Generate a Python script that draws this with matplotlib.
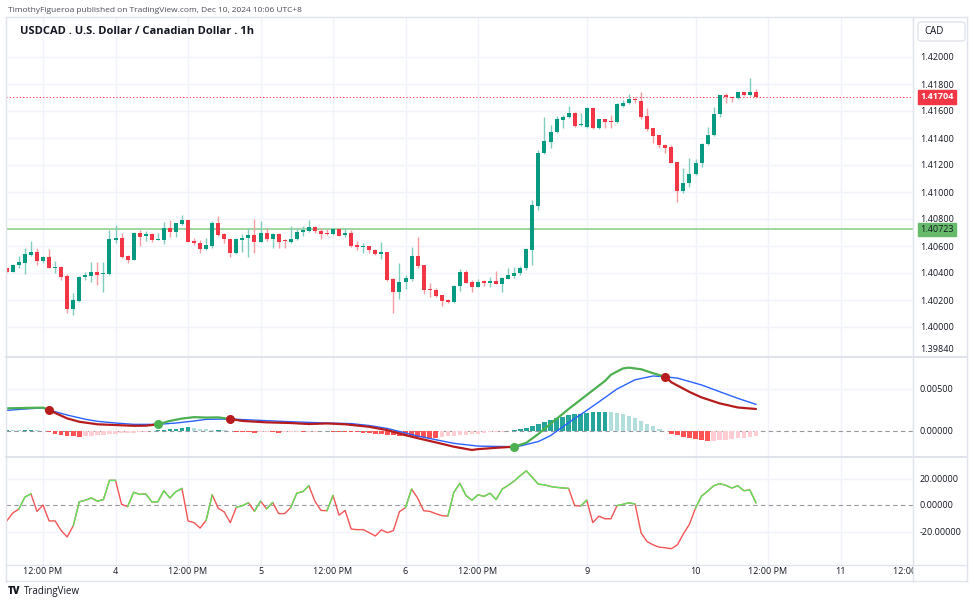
import matplotlib
matplotlib.use("Agg")
import matplotlib.pyplot as plt
from matplotlib.lines import Line2D
from matplotlib.patches import FancyBboxPatch
import matplotlib.transforms as mtransforms
import numpy as np

# ---------------------------------------------------------
# Data (hourly bars, bar 0 = Dec 3 06:00 UTC+8)
# ---------------------------------------------------------
opens = [1.40435, 1.40410, 1.40457, 1.40472, 1.40533, 1.40558, 1.40489, 1.40519, 1.40440, 1.40445,
         1.40375, 1.40136, 1.40193, 1.40373, 1.40380, 1.40408, 1.40393, 1.40393, 1.40645, 1.40659,
         1.40526, 1.40496, 1.40694, 1.40674, 1.40689, 1.40647, 1.40645, 1.40731, 1.40704, 1.40763,
         1.40793, 1.40640, 1.40625, 1.40575, 1.40600, 1.40773, 1.40689, 1.40652, 1.40546, 1.40645,
         1.40657, 1.40682, 1.40632, 1.40694, 1.40650, 1.40689, 1.40642, 1.40627, 1.40650, 1.40704,
         1.40714, 1.40743, 1.40711, 1.40694, 1.40687, 1.40729, 1.40679, 1.40694, 1.40608, 1.40593,
         1.40600, 1.40571, 1.40538, 1.40553, 1.40353, 1.40262, 1.40336, 1.40356, 1.40526, 1.40457,
         1.40282, 1.40274, 1.40235, 1.40200, 1.40185, 1.40304, 1.40410, 1.40331, 1.40294, 1.40341,
         1.40324, 1.40343, 1.40319, 1.40358, 1.40380, 1.40398, 1.40435, 1.40571, 1.40899, 1.41286,
         1.41373, 1.41447, 1.41533, 1.41553, 1.41588, 1.41499, 1.41479, 1.41620, 1.41472, 1.41538,
         1.41528, 1.41516, 1.41640, 1.41657, 1.41687, 1.41677, 1.41563, 1.41472, 1.41420, 1.41348,
         1.41336, 1.41220, 1.41010, 1.41069, 1.41131, 1.41212, 1.41353, 1.41422, 1.41575, 1.41716,
         1.41701, 1.41694, 1.41741, 1.41719, 1.41741]
highs = [1.40440, 1.40464, 1.40529, 1.40583, 1.40637, 1.40583, 1.40526, 1.40575, 1.40489, 1.40452,
         1.40393, 1.40249, 1.40378, 1.40405, 1.40484, 1.40479, 1.40482, 1.40719, 1.40756, 1.40694,
         1.40533, 1.40701, 1.40719, 1.40711, 1.40694, 1.40694, 1.40776, 1.40793, 1.40773, 1.40830,
         1.40800, 1.40657, 1.40645, 1.40657, 1.40788, 1.40825, 1.40694, 1.40657, 1.40657, 1.40687,
         1.40731, 1.40800, 1.40783, 1.40731, 1.40699, 1.40699, 1.40652, 1.40751, 1.40731, 1.40751,
         1.40793, 1.40748, 1.40731, 1.40726, 1.40731, 1.40734, 1.40731, 1.40719, 1.40640, 1.40620,
         1.40603, 1.40575, 1.40632, 1.40558, 1.40366, 1.40472, 1.40385, 1.40595, 1.40664, 1.40459,
         1.40324, 1.40286, 1.40240, 1.40210, 1.40309, 1.40427, 1.40422, 1.40348, 1.40353, 1.40348,
         1.40368, 1.40415, 1.40373, 1.40435, 1.40447, 1.40454, 1.40583, 1.40941, 1.41311, 1.41558,
         1.41496, 1.41563, 1.41570, 1.41640, 1.41595, 1.41588, 1.41632, 1.41632, 1.41543, 1.41541,
         1.41570, 1.41657, 1.41682, 1.41726, 1.41706, 1.41741, 1.41620, 1.41477, 1.41422, 1.41356,
         1.41348, 1.41225, 1.41180, 1.41249, 1.41242, 1.41361, 1.41479, 1.41632, 1.41721, 1.41731,
         1.41706, 1.41743, 1.41743, 1.41842, 1.41761]
lows = [1.40405, 1.40405, 1.40440, 1.40393, 1.40526, 1.40459, 1.40472, 1.40435, 1.40398, 1.40348,
        1.40101, 1.40089, 1.40188, 1.40348, 1.40331, 1.40309, 1.40262, 1.40388, 1.40625, 1.40509,
        1.40472, 1.40494, 1.40600, 1.40640, 1.40632, 1.40642, 1.40612, 1.40669, 1.40669, 1.40756,
        1.40627, 1.40608, 1.40551, 1.40571, 1.40588, 1.40674, 1.40625, 1.40516, 1.40541, 1.40558,
        1.40516, 1.40546, 1.40630, 1.40640, 1.40583, 1.40583, 1.40583, 1.40625, 1.40645, 1.40674,
        1.40706, 1.40694, 1.40650, 1.40682, 1.40682, 1.40674, 1.40669, 1.40595, 1.40571, 1.40551,
        1.40546, 1.40533, 1.40504, 1.40343, 1.40101, 1.40205, 1.40279, 1.40343, 1.40435, 1.40244,
        1.40220, 1.40225, 1.40156, 1.40180, 1.40180, 1.40269, 1.40324, 1.40262, 1.40294, 1.40304,
        1.40299, 1.40316, 1.40262, 1.40356, 1.40361, 1.40385, 1.40422, 1.40459, 1.40867, 1.41281,
        1.41328, 1.41440, 1.41472, 1.41546, 1.41479, 1.41491, 1.41477, 1.41467, 1.41467, 1.41477,
        1.41472, 1.41509, 1.41632, 1.41650, 1.41662, 1.41538, 1.41454, 1.41361, 1.41323, 1.41291,
        1.41212, 1.40928, 1.40995, 1.41039, 1.41126, 1.41188, 1.41348, 1.41417, 1.41558, 1.41657,
        1.41669, 1.41689, 1.41714, 1.41714, 1.41699]
closes = [1.40410, 1.40459, 1.40479, 1.40538, 1.40558, 1.40491, 1.40521, 1.40440, 1.40445, 1.40373,
          1.40136, 1.40200, 1.40373, 1.40385, 1.40408, 1.40388, 1.40398, 1.40650, 1.40659, 1.40516,
          1.40496, 1.40694, 1.40669, 1.40687, 1.40645, 1.40652, 1.40734, 1.40706, 1.40768, 1.40793,
          1.40632, 1.40625, 1.40575, 1.40608, 1.40773, 1.40682, 1.40650, 1.40546, 1.40650, 1.40662,
          1.40682, 1.40632, 1.40694, 1.40650, 1.40689, 1.40632, 1.40637, 1.40652, 1.40706, 1.40719,
          1.40743, 1.40711, 1.40687, 1.40687, 1.40726, 1.40677, 1.40694, 1.40600, 1.40595, 1.40598,
          1.40571, 1.40538, 1.40553, 1.40348, 1.40262, 1.40336, 1.40363, 1.40526, 1.40452, 1.40274,
          1.40274, 1.40232, 1.40195, 1.40185, 1.40306, 1.40410, 1.40328, 1.40299, 1.40336, 1.40328,
          1.40343, 1.40319, 1.40361, 1.40385, 1.40403, 1.40435, 1.40575, 1.40904, 1.41291, 1.41378,
          1.41447, 1.41538, 1.41558, 1.41588, 1.41489, 1.41504, 1.41620, 1.41472, 1.41538, 1.41521,
          1.41521, 1.41650, 1.41662, 1.41687, 1.41679, 1.41558, 1.41467, 1.41417, 1.41348, 1.41328,
          1.41217, 1.41010, 1.41069, 1.41131, 1.41217, 1.41356, 1.41425, 1.41578, 1.41716, 1.41704,
          1.41694, 1.41741, 1.41719, 1.41741, 1.41704]

last_price = 1.41704
level_price = 1.40723

# MACD panel: line points (bar, value)
macd_x = [0, 3, 6, 7, 8, 10, 12, 15, 18, 21, 23, 25, 27, 29, 31, 33, 35, 37, 39, 43, 47, 50, 53, 56,
          60, 63, 66, 68, 71, 74, 77, 78, 81, 84, 86, 88, 90, 93, 96, 99, 100, 102, 103, 105, 107,
          109, 110, 113, 115, 118, 121, 124]
macd_v = [0.00270, 0.00274, 0.00278, 0.00250, 0.00215, 0.00150, 0.00110, 0.00080, 0.00071, 0.00062,
          0.00063, 0.00079, 0.00120, 0.00148, 0.00165, 0.00160, 0.00162, 0.00143, 0.00120, 0.00103,
          0.00095, 0.00083, 0.00090, 0.00080, 0.00050, 0.00010, -0.00050, -0.00085, -0.00135, -0.00187,
          -0.00226, -0.00216, -0.00200, -0.00187, -0.00140, -0.00035, 0.00085, 0.00262, 0.00429, 0.00595,
          0.00670, 0.00745, 0.00754, 0.00735, 0.00687, 0.00645, 0.00580, 0.00465, 0.00400, 0.00329,
          0.00280, 0.00262]
macd_green_spans = [(0, 7), (25, 37), (84, 109)]
macd_red_spans = [(7, 25), (37, 84), (109, 124)]

signal_x = [0, 3, 6, 7, 10, 13, 15, 18, 21, 25, 28, 31, 33, 37, 40, 46, 52, 57, 60, 63, 68, 74, 78,
            84, 85, 88, 90, 93, 96, 99, 101, 104, 107, 109, 111, 115, 118, 121, 124]
signal_v = [0.00246, 0.00262, 0.00276, 0.00250, 0.00190, 0.00140, 0.00115, 0.00095, 0.00079, 0.00079,
            0.00095, 0.00119, 0.00139, 0.00143, 0.00133, 0.00113, 0.00097, 0.00088, 0.00065, 0.00030,
            -0.00060, -0.00147, -0.00180, -0.00187, -0.00178, -0.00125, -0.00055, 0.00100, 0.00245,
            0.00397, 0.00500, 0.00610, 0.00655, 0.00645, 0.00630, 0.00548, 0.00468, 0.00389, 0.00317]

cross_x = [7, 25, 37, 84, 109]
cross_v = [0.00250, 0.00079, 0.00143, -0.00187, 0.00645]
cross_up = [False, True, False, True, False]

hist = [0.00010, 0.00008, 0.00006, 0.00008, 0.00010, 0.00006, 0.00004, -0.00016, -0.00030, -0.00044,
        -0.00056, -0.00064, -0.00068, -0.00060, -0.00054, -0.00048, -0.00042, -0.00036, -0.00032, -0.00026,
        -0.00022, -0.00018, -0.00014, -0.00010, -0.00004, 0.00006, 0.00014, 0.00022, 0.00028, 0.00034,
        0.00042, 0.00034, 0.00026, 0.00018, 0.00012, 0.00014, 0.00008, -0.00004, -0.00010, -0.00014,
        -0.00016, -0.00018, -0.00016, -0.00014, -0.00016, -0.00018, -0.00016, -0.00014, -0.00012, -0.00014,
        -0.00012, -0.00008, -0.00004, -0.00004, -0.00006, -0.00008, -0.00010, -0.00012, -0.00016, -0.00020,
        -0.00024, -0.00030, -0.00036, -0.00042, -0.00048, -0.00054, -0.00060, -0.00066, -0.00072, -0.00077,
        -0.00080, -0.00081, -0.00070, -0.00064, -0.00058, -0.00052, -0.00046, -0.00038, -0.00030, -0.00022,
        -0.00016, -0.00012, -0.00008, -0.00004, 0.00012, 0.00020, 0.00036, 0.00056, 0.00083, 0.00111,
        0.00135, 0.00155, 0.00171, 0.00187, 0.00198, 0.00206, 0.00214, 0.00222, 0.00226, 0.00227,
        0.00222, 0.00214, 0.00202, 0.00179, 0.00151, 0.00119, 0.00087, 0.00056, 0.00024, -0.00004,
        -0.00032, -0.00052, -0.00071, -0.00087, -0.00099, -0.00111, -0.00121, -0.00119, -0.00111, -0.00103,
        -0.00095, -0.00087, -0.00079, -0.00071, -0.00063]

# Oscillator panel: one value per bar
osc = [-12.0, -6.0, -3.1, 6.0, 8.4, -4.8, 0.0, -12.0, -12.0, -19.3,
       -24.1, -15.7, 2.4, 3.6, 5.3, 2.9, 4.1, 18.6, 18.6, 0.5,
       -1.2, 9.6, 8.0, 8.4, 2.4, 2.4, 10.8, 5.3, 10.1, 12.5,
       -12.0, -13.3, -17.4, -11.6, 7.7, -2.4, -5.3, -13.3, -1.7, -0.5,
       1.7, -4.8, 2.9, -2.9, 1.9, -6.5, -6.5, -1.9, 8.9, 10.1,
       14.5, 2.9, -4.1, -4.3, 7.2, -7.7, -4.1, -18.1, -18.6, -18.6,
       -20.9, -23.4, -18.8, -20.9, -19.3, -5.0, -1.9, 12.0, 5.3, -4.3,
       -4.8, -6.5, -8.0, -8.4, 9.6, 16.4, 7.2, 3.6, 7.7, 6.5,
       8.9, 4.1, 12.0, 14.9, 18.1, 22.2, 25.8, 20.7, 15.7, 15.2,
       14.0, 13.3, 12.9, 12.5, -0.5, -0.7, 3.6, -13.3, -8.4, -10.4,
       -10.4, -0.5, 0.5, 1.7, 0.7, -21.2, -27.7, -30.1, -31.8, -32.3,
       -33.0, -30.1, -21.7, -14.5, -2.4, 6.7, 10.4, 14.5, 16.1, 14.9,
       12.8, 14.5, 10.8, 11.3, 1.7]
osc_green_spans = [(2, 4), (11, 18), (20, 29), (33, 34), (38, 40), (41, 42), (43, 44), (47, 50),
                   (53, 54), (66, 67), (73, 93), (95, 96), (101, 104), (114, 124)]

price_ticks = [1.40000, 1.40200, 1.40400, 1.40600, 1.40800, 1.41000, 1.41200, 1.41400, 1.41600,
               1.41800, 1.42000]
price_low_label = 1.39840
macd_ticks = [0.0, 0.005]
osc_ticks = [-20, 0, 20]

time_tick_bars = [6, 18, 30, 42, 54, 66, 78, 96, 114, 126, 138, 150]
time_tick_labels = ["12:00 PM", "4", "12:00 PM", "5", "12:00 PM", "6", "12:00 PM", "9", "10",
                    "12:00 PM", "11", "12:00 PM"]

# ---------------------------------------------------------
# Styling
# ---------------------------------------------------------
GREEN = "#089981"
RED = "#f23645"
GREEN_WICK = "#7fccc0"
RED_WICK = "#f89aa2"
GRID = "#f0f3fa"
BORDER = "#e0e3eb"
TEXT = "#131722"
FONT = ["Open Sans", "DejaVu Sans"]

plt.rcParams["font.family"] = FONT

W, H = 975, 605
LEFT, RIGHT = 6, 913
XLIM = (-0.13, 150.0)


def fx(px):
    return px / W


def fy(py):
    return 1 - py / H


def panel(top, bottom):
    ax = fig.add_axes([fx(LEFT), fy(bottom), (RIGHT - LEFT) / W, (bottom - top) / H])
    ax.set_facecolor("white")
    for s in ax.spines.values():
        s.set_visible(False)
    ax.set_xlim(*XLIM)
    ax.set_xticks([])
    ax.yaxis.tick_right()
    ax.tick_params(axis="y", length=0, pad=5, labelsize=6.5, labelcolor=TEXT)
    for b in time_tick_bars:
        ax.axvline(b, color=GRID, lw=1, zorder=0)
    return ax


fig = plt.figure(figsize=(W / 100, H / 100), dpi=100)
fig.patch.set_facecolor("white")

# ---------------------------------------------------------
# Main candle panel
# ---------------------------------------------------------
ax = panel(17, 357)
ax.set_ylim(1.42 - 300 / 13500, 1.42 + 40 / 13500)
for p in price_ticks:
    ax.axhline(p, color=GRID, lw=1, zorder=0)

o = np.array(opens)
h = np.array(highs)
l = np.array(lows)
c = np.array(closes)
x = np.arange(len(o))
up = c >= o
ax.vlines(x, l, h, colors=np.where(up, GREEN_WICK, RED_WICK), lw=1, zorder=2)
ax.bar(x, np.maximum(np.abs(c - o), 0.00007), bottom=np.minimum(o, c), width=0.66,
       color=np.where(up, GREEN, RED), linewidth=0, zorder=3)

ax.axhline(level_price, color="#8fd08f", lw=1.2, zorder=1)
ax.axhline(last_price, color=RED, lw=0.8, ls=(0, (1, 2)), zorder=1)

ticks = [price_low_label] + price_ticks
ax.set_yticks(ticks)
ax.set_yticklabels([f"{t:.5f}" for t in ticks])

tr = mtransforms.blended_transform_factory(ax.transAxes, ax.transData)
xt = 1 + 7.5 / (RIGHT - LEFT)
ax.text(xt, last_price, f"{last_price:.5f}", transform=tr, fontsize=6.5, color="white",
        weight="bold", va="center", ha="left", zorder=10,
        bbox=dict(boxstyle="square,pad=0.25", fc=RED, ec=RED))
ax.text(xt, level_price, f"{level_price:.5f}", transform=tr, fontsize=6.5, color=TEXT,
        va="center", ha="left", zorder=10,
        bbox=dict(boxstyle="square,pad=0.25", fc="#66bb6a", ec="#66bb6a"))

# ---------------------------------------------------------
# MACD panel
# ---------------------------------------------------------
axm = panel(357, 457)
axm.set_ylim((431 - 457) / 8400, (431 - 357) / 8400)
axm.axhline(0.005, color=GRID, lw=1, zorder=0)
axm.axhline(0, color="#9598a1", lw=0.8, ls=(0, (4, 3)), zorder=1)

hv = np.array(hist)
hcolors = []
for i, v in enumerate(hv):
    prev = hv[i - 1] if i else v
    if v >= 0:
        hcolors.append("#26a69a" if v >= prev else "#b2dfdb")
    else:
        hcolors.append("#ffcdd2" if v > prev else "#ff5252")
axm.bar(np.arange(len(hv)), hv, width=0.75, color=hcolors, linewidth=0, zorder=2)

axm.plot(signal_x, signal_v, color="#2962ff", lw=1.0, zorder=3)
mx = np.array(macd_x)
mv = np.array(macd_v)
for spans, col in ((macd_green_spans, "#4caf50"), (macd_red_spans, "#b71c1c")):
    for a, b in spans:
        m = (mx >= a) & (mx <= b)
        axm.plot(mx[m], mv[m], color=col, lw=1.6, zorder=4, solid_capstyle="round")
for bx, bv, is_up in zip(cross_x, cross_v, cross_up):
    axm.plot(bx, bv, "o", ms=5.5, color="#4caf50" if is_up else "#b71c1c", zorder=5)

axm.set_yticks(macd_ticks)
axm.set_yticklabels([f"{t:.5f}" for t in macd_ticks])

# ---------------------------------------------------------
# Oscillator panel
# ---------------------------------------------------------
axo = panel(457, 565)
axo.set_ylim(-(565 - 505) / 1.325, (505 - 457) / 1.325)
for t in (20, -20):
    axo.axhline(t, color=GRID, lw=1, zorder=0)
axo.axhline(0, color="#9598a1", lw=0.8, ls=(0, (4, 3)), zorder=1)

ov = np.array(osc)
ox = np.arange(len(ov))
axo.plot(ox, ov, color="#f25555", lw=1.0, zorder=2)
for a, b in osc_green_spans:
    axo.plot(ox[a:b + 1], ov[a:b + 1], color="#5ce65c", lw=1.0, zorder=3)
axo.set_yticks(osc_ticks)
axo.set_yticklabels([f"{t:.5f}" for t in osc_ticks])

# ---------------------------------------------------------
# Time axis strip
# ---------------------------------------------------------
axt = fig.add_axes([fx(LEFT), fy(581), (RIGHT - LEFT) / W, 16 / H])
axt.set_xlim(*XLIM)
axt.set_ylim(0, 1)
axt.axis("off")
for b, lab in zip(time_tick_bars, time_tick_labels):
    axt.text(b, 0.6, lab, ha="center", va="center", fontsize=6.5, color=TEXT, clip_on=True)

# ---------------------------------------------------------
# Frame, header and footer
# ---------------------------------------------------------
def fline(x0, y0, x1, y1, color=BORDER, lw=1):
    fig.add_artist(Line2D([fx(x0), fx(x1)], [fy(y0), fy(y1)], color=color, lw=lw))


fline(LEFT, 17, 967, 17)
fline(LEFT, 581, 967, 581)
fline(LEFT, 17, LEFT, 581)
fline(967, 17, 967, 581)
fline(RIGHT, 17, RIGHT, 581)
fline(LEFT, 357, 967, 357, lw=1.5)
fline(LEFT, 457, 967, 457, lw=1.5)
fline(LEFT, 565, 967, 565)

fig.add_artist(FancyBboxPatch((fx(918), fy(41)), 47 / W, 19 / H,
                              boxstyle="round,pad=0,rounding_size=0.004",
                              fc="white", ec=BORDER, lw=1, transform=fig.transFigure))
fig.text(fx(924), fy(31.5), "CAD", fontsize=7, color=TEXT, va="center", ha="left")

fig.text(fx(8), fy(10), "TimothyFigueroa published on TradingView.com, Dec 10, 2024 10:06 UTC+8",
         fontsize=6.0, color="#4a4e59", va="center", ha="left")
fig.text(fx(20), fy(31), "USDCAD . U.S. Dollar / Canadian Dollar . 1h",
         fontsize=8.0, weight="bold", color=TEXT, va="center", ha="left")
fig.text(fx(8), fy(591.5), "TV", fontsize=7, weight="heavy", color=TEXT, va="center", ha="left")
fig.text(fx(24), fy(591.5), "TradingView", fontsize=7, color=TEXT, va="center", ha="left")

fig.savefig("out.png", dpi=100, facecolor="white")
